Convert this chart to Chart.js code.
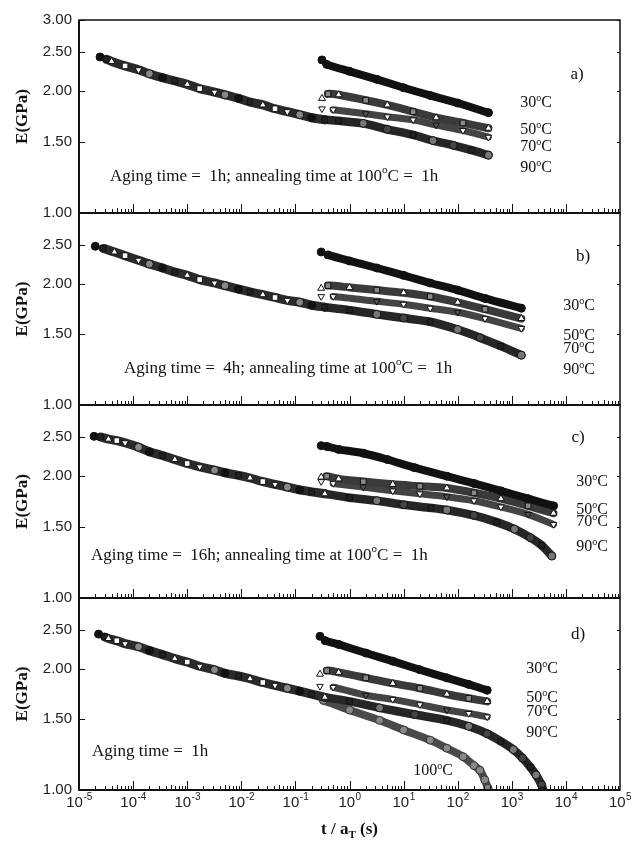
<!DOCTYPE html>
<html>
<head>
<meta charset="utf-8">
<script src="https://cdn.jsdelivr.net/npm/chart.js@4.4.0/dist/chart.umd.min.js"></script>
<style>
  body { margin: 0; background: #fff; }
  #wrap { position: relative; width: 633px; height: 844px; }
  #wrap canvas { position: absolute; left: 0; top: 0; }
</style>
</head>
<body>
<div id="wrap">
  <canvas id="pa" width="633" height="844"></canvas>
  <canvas id="pb" width="633" height="844"></canvas>
  <canvas id="pc" width="633" height="844"></canvas>
  <canvas id="pd" width="633" height="844"></canvas>
</div>
<script>
// [t / aT (s), E (GPa)]
const masterA = [[2.45e-5,2.43],[3.2e-5,2.40],[4.0e-5,2.37],[7.1e-5,2.31],[1.26e-4,2.26],[2.0e-4,2.21],[3.5e-4,2.16],[5.9e-4,2.12],[1.0e-3,2.08],[1.7e-3,2.03],[3.2e-3,1.99],[5.0e-3,1.96],[8.9e-3,1.92],[1.45e-2,1.88],[2.5e-2,1.85],[4.2e-2,1.81],[7.1e-2,1.78],[0.12,1.75],[0.2,1.72],[0.35,1.70]];
const t30A = [[0.31,2.39],[0.38,2.33],[1.0,2.24],[3.2,2.14],[10,2.04],[32,1.95],[100,1.87],[370,1.77]];
const t50A = [[0.31,1.92],[0.40,1.97],[0.63,1.96],[2.0,1.90],[5.0,1.85],[15,1.78],[40,1.72],[125,1.67],[370,1.62]];
const t70A = [[0.31,1.81],[0.5,1.80],[2.0,1.76],[5.0,1.73],[15,1.70],[40,1.65],[125,1.60],[370,1.54]];
const t90A = [[0.35,1.70],[0.63,1.69],[1.8,1.665],[5.0,1.61],[15,1.56],[35,1.51],[83,1.47],[180,1.43],[370,1.39]];

const masterB = [[2.0e-5,2.48],[2.8e-5,2.45],[4.5e-5,2.40],[7.1e-5,2.35],[1.26e-4,2.29],[2.0e-4,2.24],[3.5e-4,2.19],[5.9e-4,2.14],[1.0e-3,2.10],[1.7e-3,2.05],[3.2e-3,2.01],[5.0e-3,1.98],[8.9e-3,1.94],[1.45e-2,1.91],[2.5e-2,1.88],[4.2e-2,1.85],[7.1e-2,1.82],[0.12,1.80],[0.2,1.77],[0.35,1.75]];
const t30B = [[0.30,2.40],[0.40,2.36],[1.0,2.28],[3.2,2.19],[10,2.10],[31,2.01],[100,1.93],[320,1.84],[1500,1.74]];
const t50B = [[0.30,1.95],[0.40,1.98],[1.0,1.96],[3.2,1.93],[10,1.90],[31,1.86],[100,1.80],[320,1.73],[1500,1.64]];
const t70B = [[0.30,1.86],[0.5,1.86],[3.2,1.81],[10,1.78],[31,1.74],[100,1.70],[320,1.64],[1500,1.55]];
const t90B = [[0.35,1.75],[1.0,1.72],[3.2,1.68],[10,1.645],[31,1.61],[100,1.54],[260,1.47],[630,1.40],[1500,1.33]];

const masterC = [[1.9e-5,2.51],[2.5e-5,2.50],[3.5e-5,2.47],[5.0e-5,2.45],[7.1e-5,2.42],[1.26e-4,2.36],[2.0e-4,2.30],[3.5e-4,2.25],[5.9e-4,2.20],[1.0e-3,2.15],[1.7e-3,2.11],[3.2e-3,2.07],[5.0e-3,2.04],[8.9e-3,2.01],[1.45e-2,1.98],[2.5e-2,1.94],[4.2e-2,1.91],[7.1e-2,1.88],[0.12,1.85],[0.2,1.83],[0.35,1.81]];
const t30C = [[0.30,2.38],[0.38,2.37],[0.63,2.33],[1.8,2.28],[5.0,2.20],[16,2.10],[63,2.00],[200,1.92],[630,1.84],[2000,1.76],[5900,1.69]];
const t50C = [[0.30,1.99],[0.38,2.00],[0.63,1.97],[1.8,1.94],[6.3,1.91],[20,1.89],[63,1.87],[200,1.82],[630,1.76],[2000,1.69],[5900,1.62]];
const t70C = [[0.30,1.94],[0.5,1.92],[1.8,1.88],[6.3,1.84],[20,1.81],[63,1.78],[200,1.74],[630,1.68],[2000,1.61],[5900,1.52]];
const t90C = [[0.35,1.81],[1.0,1.77],[3.2,1.74],[10,1.70],[32,1.67],[63,1.65],[200,1.60],[525,1.54],[1120,1.48],[2200,1.41],[3550,1.35],[5500,1.27]];

const masterD = [[2.3e-5,2.44],[3.0e-5,2.40],[3.5e-5,2.38],[5.0e-5,2.35],[7.1e-5,2.31],[1.26e-4,2.27],[2.0e-4,2.22],[3.5e-4,2.17],[5.9e-4,2.12],[1.0e-3,2.08],[1.7e-3,2.03],[3.2e-3,1.99],[5.0e-3,1.95],[8.9e-3,1.92],[1.45e-2,1.89],[2.5e-2,1.85],[4.2e-2,1.82],[7.1e-2,1.79],[0.12,1.76],[0.2,1.73],[0.35,1.70]];
const t30D = [[0.285,2.41],[0.355,2.35],[0.63,2.30],[2.0,2.19],[6.3,2.09],[20,1.99],[63,1.90],[160,1.83],[350,1.77]];
const t50D = [[0.285,1.94],[0.38,1.98],[0.63,1.96],[2.0,1.90],[6.3,1.84],[20,1.79],[63,1.73],[160,1.69],[350,1.66]];
const t70D = [[0.285,1.81],[0.5,1.80],[2.0,1.72],[6.3,1.68],[20,1.63],[63,1.58],[160,1.55],[350,1.52]];
const t90D = [[0.35,1.70],[1.0,1.66],[3.6,1.60],[16,1.54],[63,1.49],[160,1.44],[350,1.38],[630,1.32],[1070,1.26],[1580,1.20],[2200,1.14],[2800,1.09],[3550,1.03],[3800,1.00]];
const t100D = [[0.33,1.67],[1.0,1.58],[3.6,1.49],[10,1.41],[31,1.33],[63,1.27],[126,1.21],[200,1.15],[257,1.12],[316,1.06],[363,1.01]];

const yTicksTop = [1, 1.5, 2, 2.5, 3];
const yTicks = [1, 1.5, 2, 2.5];
const xDecades = [-5, -4, -3, -2, -1, 0, 1, 2, 3, 4, 5];
const tempLabels = ['30°C', '50°C', '70°C', '90°C'];
const notes = [
  'Aging time =  1h; annealing time at 100°C =  1h',
  'Aging time =  4h; annealing time at 100°C =  1h',
  'Aging time =  16h; annealing time at 100°C =  1h',
  'Aging time =  1h'
];

const panels = [
  { id: 'pa', top: 20, bottom: 213, ticks: yTicksTop, master: masterA, s30: t30A, s50: t50A, s70: t70A, s90: t90A,
    tag: 'a)', tagAt: [577, 73], tempX: 536, tempY: [102, 129, 146, 167], note: notes[0], noteAt: [110, 175] },
  { id: 'pb', top: 213, bottom: 405, ticks: yTicks, master: masterB, s30: t30B, s50: t50B, s70: t70B, s90: t90B,
    tag: 'b)', tagAt: [583, 255], tempX: 579, tempY: [305, 335, 348, 369], note: notes[1], noteAt: [124, 367] },
  { id: 'pc', top: 405, bottom: 598, ticks: yTicks, master: masterC, s30: t30C, s50: t50C, s70: t70C, s90: t90C,
    tag: 'c)', tagAt: [578, 436], tempX: 592, tempY: [481, 509, 521, 546], note: notes[2], noteAt: [91, 554] },
  { id: 'pd', top: 598, bottom: 790, ticks: yTicks, master: masterD, s30: t30D, s50: t50D, s70: t70D, s90: t90D, s100: t100D,
    tag: 'd)', tagAt: [578, 633], tempX: 542, tempY: [668, 697, 711, 732], note: notes[3], noteAt: [92, 750], last: true }
];

const SERIF = '"Liberation Serif", "Times New Roman", serif';
const SANS = '"Liberation Sans", Arial, sans-serif';

// text with the degree sign drawn as a raised small "o"
function supText(ctx, str, x, y, size, align, font) {
  const parts = str.split('°');
  const big = size + 'px ' + font, small = Math.round(size * 0.62) + 'px ' + font;
  let w = 0;
  parts.forEach((p, i) => {
    ctx.font = big; w += ctx.measureText(p).width;
    if (i < parts.length - 1) { ctx.font = small; w += ctx.measureText('o').width; }
  });
  let cx = align === 'center' ? x - w / 2 : x;
  const base = y + size * 0.33;
  parts.forEach((p, i) => {
    ctx.font = big; ctx.fillText(p, cx, base); cx += ctx.measureText(p).width;
    if (i < parts.length - 1) {
      ctx.font = small; ctx.fillText('o', cx, base - size * 0.42); cx += ctx.measureText('o').width;
    }
  });
}

const framePlugin = {
  id: 'frame',
  afterDatasetsDraw(chart, args, o) {
    const { ctx, chartArea: a } = chart;
    const x = chart.scales.x, y = chart.scales.y;
    const p = o.panel;
    ctx.save();
    ctx.strokeStyle = '#111';
    ctx.lineWidth = 1;
    ctx.beginPath();
    xDecades.slice(0, -1).forEach(e => {
      for (let m = 1; m < 10; m++) {
        const px = Math.round(x.getPixelForValue(m * Math.pow(10, e))) + 0.5;
        const len = m === 1 ? 9 : (m === 5 ? 5 : 4);
        ctx.moveTo(px, a.bottom); ctx.lineTo(px, a.bottom - len);
      }
    });
    p.ticks.forEach(v => {
      const py = Math.round(y.getPixelForValue(v)) + 0.5;
      ctx.moveTo(a.left, py); ctx.lineTo(a.left + 6, py);
      ctx.moveTo(a.right, py); ctx.lineTo(a.right - 3, py);
    });
    ctx.stroke();

    ctx.lineWidth = 1.5;
    ctx.strokeRect(a.left, a.top, a.right - a.left, a.bottom - a.top);
    ctx.lineWidth = 2;
    ctx.beginPath();
    ctx.moveTo(a.left, a.top); ctx.lineTo(a.left, a.bottom); ctx.lineTo(a.right, a.bottom);
    ctx.stroke();

    ctx.fillStyle = '#111';
    ctx.textAlign = 'left';
    ctx.textBaseline = 'alphabetic';
    supText(ctx, p.tag, p.tagAt[0], p.tagAt[1], 17, 'center', SERIF);
    tempLabels.forEach((t, i) => supText(ctx, t, p.tempX, p.tempY[i], 16, 'center', SERIF));
    supText(ctx, p.note, p.noteAt[0], p.noteAt[1], 17, 'left', SERIF);
    if (p.last) {
      supText(ctx, '100°C', 433, 770, 16, 'center', SERIF);
      // x tick labels 10^n
      xDecades.forEach(e => {
        const px = x.getPixelForValue(Math.pow(10, e));
        ctx.font = '15px ' + SANS;
        const w1 = ctx.measureText('10').width;
        ctx.font = '10px ' + SANS;
        const w2 = ctx.measureText(String(e)).width;
        const sx = px - (w1 + w2) / 2;
        ctx.font = '15px ' + SANS;
        ctx.fillStyle = '#222';
        ctx.fillText('10', sx, a.bottom + 17);
        ctx.font = '10px ' + SANS;
        ctx.fillText(String(e), sx + w1 + 0.5, a.bottom + 10);
      });
      // x title t / aT (s)
      ctx.fillStyle = '#111';
      const b1 = 'bold 17px ' + SERIF, b2 = 'bold 11px ' + SERIF;
      ctx.font = b1; const wa = ctx.measureText('t / a').width;
      ctx.font = b2; const wb = ctx.measureText('T').width;
      ctx.font = b1; const wc = ctx.measureText(' (s)').width;
      let sx = (a.left + a.right) / 2 - (wa + wb + wc) / 2;
      const by = a.bottom + 44;
      ctx.font = b1; ctx.fillText('t / a', sx, by); sx += wa;
      ctx.font = b2; ctx.fillText('T', sx, by + 4); sx += wb;
      ctx.font = b1; ctx.fillText(' (s)', sx, by);
    }
    ctx.restore();
  }
};

const cyc = (arr) => (c) => arr[c.dataIndex % arr.length];
const gapFirst = { borderColor: c => (c.p0DataIndex === 0 ? 'rgba(0,0,0,0)' : undefined) };

function series(pts, look) {
  return Object.assign({
    data: pts.map(([t, e]) => ({ x: t, y: e })),
    showLine: true,
    tension: 0.25,
    borderCapStyle: 'round',
    borderJoinStyle: 'round',
    pointBorderWidth: 1,
    pointBorderColor: '#111'
  }, look);
}

const lookMaster = {
  borderColor: '#2b2b2b', borderWidth: 9, pointRadius: 4, segment: gapFirst,
  pointStyle: cyc(['circle', 'rect', 'triangle', 'rect', 'triangle', 'circle']),
  pointRotation: cyc([0, 0, 0, 0, 180, 0]),
  pointBackgroundColor: cyc(['#111', '#222', '#fff', '#fff', '#fff', '#888'])
};
const look30 = { borderColor: '#111', borderWidth: 8, pointRadius: 4, pointStyle: 'circle', pointBackgroundColor: '#111', segment: gapFirst };
const look50 = {
  borderColor: '#3a3a3a', borderWidth: 8, pointRadius: 4, segment: gapFirst,
  pointStyle: cyc(['triangle', 'rect']), pointBackgroundColor: cyc(['#fff', '#888'])
};
const look70 = {
  borderColor: '#444', borderWidth: 7, pointRadius: 3.8, segment: gapFirst,
  pointStyle: 'triangle', pointRotation: 180, pointBackgroundColor: cyc(['#fff', '#fff', '#555'])
};
const look90 = {
  borderColor: '#262626', borderWidth: 8.5, pointRadius: 4,
  pointStyle: cyc(['circle', 'rect', 'circle']), pointBackgroundColor: cyc(['#444', '#222', '#777'])
};
const look100 = { borderColor: '#4a4a4a', borderWidth: 8, pointRadius: 4, pointStyle: 'circle', pointBackgroundColor: '#888', pointBorderColor: '#333' };

panels.forEach(p => {
  const datasets = [
    series(p.s30, look30),
    series(p.s50, look50),
    series(p.s70, look70),
    series(p.master, lookMaster),
    series(p.s90, look90)
  ];
  if (p.s100) datasets.push(series(p.s100, look100));

  new Chart(document.getElementById(p.id), {
    type: 'scatter',
    data: { datasets },
    options: {
      responsive: false,
      animation: false,
      layout: { padding: { left: 0, right: 13, top: p.top, bottom: 844 - p.bottom } },
      plugins: { legend: { display: false }, tooltip: { enabled: false }, frame: { panel: p } },
      scales: {
        x: { type: 'logarithmic', min: 1e-5, max: 1e5, display: false },
        y: {
          type: 'logarithmic', min: 1, max: 3,
          afterBuildTicks: s => { s.ticks = p.ticks.map(v => ({ value: v })); },
          afterFit: s => { s.width = 79; },
          grid: { display: false, drawTicks: false },
          border: { display: false },
          ticks: { padding: 7, color: '#222', font: { family: SANS, size: 15 }, callback: v => Number(v).toFixed(2) },
          title: { display: true, text: 'E(GPa)', color: '#111', font: { family: SERIF, size: 17, weight: 'bold' }, padding: { top: 12 } }
        }
      }
    },
    plugins: [framePlugin]
  });
});
</script>
</body>
</html>
